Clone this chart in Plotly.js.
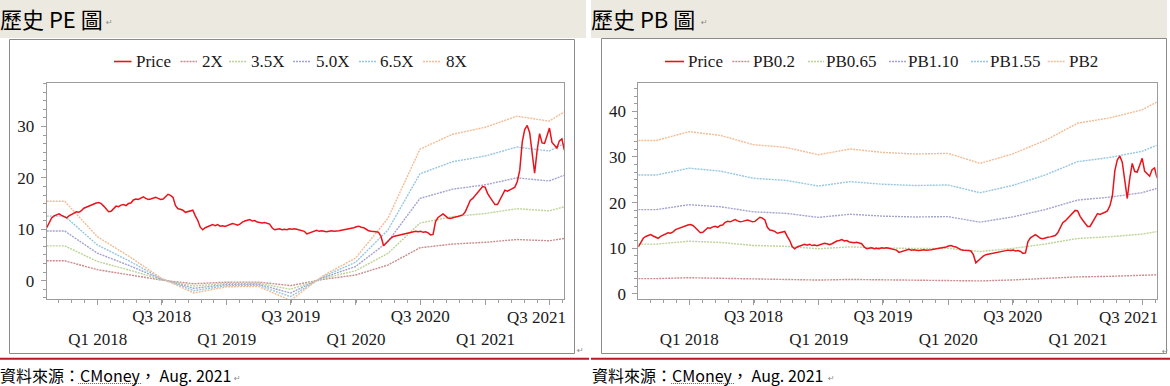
<!DOCTYPE html>
<html><head><meta charset="utf-8">
<script src="https://cdn.plot.ly/plotly-3.0.1.min.js"></script>
<style>html,body{margin:0;padding:0;background:#fff;}#chart{width:1170px;height:386px;}</style>
</head><body><div id="chart"></div>
<script>
// ---------- DATA ----------
const priceStart = '2017-08-10';
const priceStepDays = 7;
const price = [
10.3,11.4,12.2,12.6,12.85,13.0,12.7,12.4,12.2,12.6,
12.9,13.1,13.4,13.3,13.6,14.1,14.3,14.6,14.8,14.9,
15.1,15.2,15.0,14.5,14.0,13.4,13.5,14.1,14.5,14.4,
14.7,14.8,14.6,15.0,15.1,15.7,15.9,15.8,16.1,16.3,
16.0,15.8,15.9,16.0,16.2,16.0,15.8,15.9,16.4,16.8,
16.6,16.2,14.6,14.0,13.9,13.7,13.3,13.4,13.6,13.7,
12.6,11.7,10.4,9.9,10.3,10.5,10.6,10.9,10.7,10.9,
10.6,10.7,10.55,10.7,10.9,11.1,11.0,10.8,11.0,11.4,
11.6,11.7,11.9,11.6,11.7,11.4,11.3,11.2,11.3,11.1,
11.0,10.3,9.9,10.0,10.1,9.9,10.0,9.9,10.1,10.0,
10.1,10.0,9.9,9.8,9.6,9.1,9.3,9.5,9.7,9.8,
9.6,9.7,9.6,9.5,9.6,9.7,9.6,9.6,9.7,9.8,
9.9,9.9,10.0,10.1,10.3,10.5,10.6,10.4,10.3,10.0,
9.7,9.6,9.6,9.5,9.4,8.6,6.8,7.3,7.9,8.3,
8.6,8.7,8.8,8.9,9.0,9.1,9.2,9.4,9.5,9.6,
9.5,9.6,9.4,9.5,9.3,8.9,9.0,11.5,12.3,12.7,
13.0,12.6,12.2,12.1,12.3,12.4,12.5,12.6,12.8,13.4,
14.4,15.6,16.0,16.6,17.2,17.9,18.3,18.2,17.0,16.2,
15.5,14.8,14.8,15.8,16.9,17.6,17.4,17.6,17.9,18.2,
19.3,21.5,27.0,29.4,30.2,28.8,25.0,20.9,25.3,28.6,
26.8,26.7,28.2,29.7,26.9,26.3,25.8,27.2,27.6,25.4
];
const bandDates = ['2017-08-10','2017-09-30','2017-12-31','2018-03-31','2018-06-30','2018-09-30','2018-12-31','2019-03-31','2019-06-30','2019-09-30','2019-12-31','2020-03-31','2020-06-30','2020-09-30','2020-12-31','2021-03-31','2021-06-30','2021-08-11'];
const pe2x  = [3.86,3.86,2.14,1.18,0.12,-0.6,-0.3,-0.28,-0.96,0.24,1.1,3.02,6.4,7.12,7.46,8.0,7.76,8.2];
const pe35x = [6.76,6.76,3.75,2.07,0.21,-1.05,-0.53,-0.49,-1.68,0.42,1.93,5.29,11.2,12.46,13.06,14.0,13.58,14.35];
const pe50x = [9.65,9.65,5.35,2.95,0.3,-1.5,-0.75,-0.7,-2.4,0.6,2.75,7.55,16.0,17.8,18.65,20.0,19.4,20.5];
const pe65x = [12.55,12.55,6.96,3.84,0.39,-1.95,-0.98,-0.91,-3.12,0.78,3.58,9.82,20.8,23.14,24.25,26.0,25.22,26.65];
const pe80x = [15.44,15.44,8.56,4.72,0.48,-2.4,-1.2,-1.12,-3.84,0.96,4.4,12.08,25.6,28.48,29.84,32.0,31.04,32.8];
const pb020 = [3.36,3.36,3.56,3.47,3.27,3.21,3.05,3.18,3.1,3.07,3.08,2.86,3.07,3.36,3.74,3.86,4.03,4.2];
const pb065 = [10.92,10.92,11.55,11.28,10.63,10.43,9.91,10.32,10.08,9.96,10.01,9.3,9.96,10.92,12.16,12.53,13.1,13.65];
const pb110 = [18.48,18.48,19.55,19.09,17.99,17.66,16.78,17.46,17.05,16.86,16.94,15.73,16.86,18.48,20.57,21.2,22.17,23.1];
const pb155 = [26.04,26.04,27.55,26.89,25.34,24.88,23.64,24.61,24.03,23.75,23.87,22.17,23.75,26.04,28.99,29.88,31.23,32.55];
const pb200 = [33.6,33.6,35.55,34.7,32.7,32.1,30.5,31.75,31.0,30.65,30.8,28.6,30.65,33.6,37.4,38.55,40.3,42.0];
const peNames = ['2X','3.5X','5.0X','6.5X','8X'];
const pbNames = ['PB0.2','PB0.65','PB1.10','PB1.55','PB2'];
const tickDates = ['2018-01-01','2018-07-01','2019-01-01','2019-07-01','2020-01-01','2020-07-01','2021-01-01','2021-07-01'];
const tickLabels = ['Q1 2018','Q3 2018','Q1 2019','Q3 2019','Q1 2020','Q3 2020','Q1 2021','Q3 2021'];
const titlePE = '歷史 PE 圖';
const titlePB = '歷史 PB 圖';
const sourceText = '資料來源：CMoney， Aug. 2021';

// ---------- STYLE ----------
const W = 1170, H = 386;
const px = x => x / W;
const py = y => 1 - y / H;
const red = '#E8141C';
const bandColors = ['#C98B8E','#BCD497','#A3A3CF','#97C7DF','#F2BC94'];
const bandDash = '2px,1px';
const serif = 'Liberation Serif, Times New Roman, serif';
const cjk = 'Noto Sans CJK TC, Noto Sans, sans-serif';
const axisGray = '#9c9c9c';
const tickFont = {family: serif, size:17, color:'#1a1a1a'};

const peBands = [pe2x, pe35x, pe50x, pe65x, pe80x];
const pbBands = [pb020, pb065, pb110, pb155, pb200];

const traces = [];
function addChart(bands, names, xa, ya) {
  bands.forEach((vals, k) => traces.push({
    type:'scatter', mode:'lines', x: bandDates, y: vals, name: names[k],
    xaxis: xa, yaxis: ya, showlegend:false, hoverinfo:'skip',
    line:{color: bandColors[k], width:1.4, dash: bandDash}
  }));
  traces.push({
    type:'scatter', mode:'lines', x0: priceStart, dx: priceStepDays*86400000, y: price,
    name:'Price', xaxis: xa, yaxis: ya, showlegend:false, hoverinfo:'skip',
    line:{color: red, width:1.5}
  });
}
addChart(peBands, peNames, 'x', 'y');
addChart(pbBands, pbNames, 'x2', 'y2');

// last label (Q3 2021) is drawn right-aligned to the plot edge, as in the reference
const lastIdx = tickLabels.length - 1;
const tickText = tickLabels.map((t, i) => (i === lastIdx ? '' : (t.startsWith('Q1') ? '<br>' + t : t)));

const yDom = [py(299), py(83)];
function xAxis(domain, anchor) {
  return {
    domain, anchor, type:'date', range:['2017-08-10','2021-08-11'],
    tickmode:'array', tickvals: tickDates, ticktext: tickText, tickangle:0,
    ticks:'outside', ticklen:5, tickcolor: axisGray, tickwidth:1, ticklabelstandoff:-3,
    showline:true, linecolor: axisGray, linewidth:1, mirror:true,
    showgrid:false, zeroline:false, fixedrange:true, tickfont: tickFont,
    minor:{ticks:'outside', ticklen:3, tickcolor: axisGray, dtick: 36.52*86400000, tick0:'2018-01-01', showgrid:false}
  };
}
function yAxis(range, anchor) {
  return {
    domain: yDom, anchor, range, dtick:10, tick0:0,
    ticks:'outside', ticklen:5, tickcolor: axisGray, tickwidth:1,
    showline:true, linecolor: axisGray, linewidth:1, mirror:true,
    showgrid:false, zeroline:false, fixedrange:true, ticklabelstandoff:3, tickfont: tickFont,
    minor:{ticks:'outside', ticklen:3, tickcolor: axisGray, dtick:10/6, tick0:0, showgrid:false}
  };
}

const shapes = [];
const annotations = [];
// page decoration
shapes.push({type:'rect', xref:'paper', yref:'paper', x0:px(0), x1:px(586), y0:py(0), y1:py(38), fillcolor:'#ECE9E0', line:{width:0}, layer:'below'});
shapes.push({type:'rect', xref:'paper', yref:'paper', x0:px(591), x1:px(1167), y0:py(0), y1:py(38), fillcolor:'#ECE9E0', line:{width:0}, layer:'below'});
shapes.push({type:'rect', xref:'paper', yref:'paper', x0:px(9.5), x1:px(574.5), y0:py(39.5), y1:py(353.5), line:{color:'#8a8a8a', width:1}, fillcolor:'rgba(0,0,0,0)'});
shapes.push({type:'rect', xref:'paper', yref:'paper', x0:px(601.5), x1:px(1166.5), y0:py(38.5), y1:py(353.5), line:{color:'#8a8a8a', width:1}, fillcolor:'rgba(0,0,0,0)'});
shapes.push({type:'line', xref:'paper', yref:'paper', x0:px(0), x1:px(589), y0:py(358.7), y1:py(358.7), line:{color:'#B51B20', width:2}});
shapes.push({type:'line', xref:'paper', yref:'paper', x0:px(591), x1:px(1170), y0:py(358.7), y1:py(358.7), line:{color:'#B51B20', width:2}});
// spell-check underline
shapes.push({type:'line', xref:'paper', yref:'paper', x0:px(78), x1:px(141), y0:py(383.5), y1:py(383.5), line:{color:'#E04040', width:1, dash:'1px,1px'}});
shapes.push({type:'line', xref:'paper', yref:'paper', x0:px(671), x1:px(734), y0:py(383.5), y1:py(383.5), line:{color:'#E04040', width:1, dash:'1px,1px'}});

function txt(x, y, text, font, anchor) {
  annotations.push({xref:'paper', yref:'paper', x:px(x), y:py(y), text, showarrow:false,
    xanchor: anchor || 'left', yanchor:'middle', font, borderpad:0});
}
txt(-1, 18, titlePE, {family:cjk, size:22, color:'#000'});
txt(590, 18, titlePB, {family:cjk, size:22, color:'#000'});
txt(-1, 375, sourceText, {family:cjk, size:16, color:'#000'});
txt(591, 375, sourceText, {family:cjk, size:16, color:'#000'});
txt(567, 317, tickLabels[lastIdx], tickFont, 'right');
txt(1159, 317, tickLabels[lastIdx], tickFont, 'right');
const mark = '\u21b5';
[[105,23],[700,23],[233,378],[827,378],[576,350],[1161,351]].forEach(p => txt(p[0], p[1], mark, {family:'DejaVu Sans', size:8, color:'#8a8a8a'}));

// custom legends (positions)
function legend(items, y) {
  items.forEach(it => {
    shapes.push({type:'line', xref:'paper', yref:'paper', x0:px(it.s0), x1:px(it.s1), y0:py(y), y1:py(y),
      line:{color: it.color, width: it.width, dash: it.dash}});
    txt(it.t - 1, y, it.label, tickFont);
  });
}
const peLegendNames = ['Price'].concat(peNames);
const pbLegendNames = ['Price'].concat(pbNames);
const legColors = [red].concat(bandColors);
const peLegPos = [[114,131.5,136],[180.5,197,202],[229,246,251],[293,311,316],[359,376,380],[423,440.5,445.5]];
const pbLegPos = [[665,684,687.6],[732.4,749.2,752.9],[808,824,825.7],[889,906,907.8],[971,988,990],[1047.7,1064.5,1069]];
function legItems(names, pos) {
  return names.map((n, k) => ({label:n, s0:pos[k][0], s1:pos[k][1], t:pos[k][2], color:legColors[k],
    width: k === 0 ? 1.6 : 1.4, dash: k === 0 ? 'solid' : bandDash}));
}
legend(legItems(peLegendNames, peLegPos), 61.5);
legend(legItems(pbLegendNames, pbLegPos), 61.5);

const layout = {
  width: W, height: H, margin:{l:0, r:0, t:0, b:0},
  paper_bgcolor:'#fff', plot_bgcolor:'#fff', showlegend:false,
  xaxis: xAxis([px(46.7), px(564)], 'y'),
  yaxis: yAxis([-3.57, 38.46], 'x'),
  xaxis2: xAxis([px(638.3), px(1156.7)], 'y2'),
  yaxis2: yAxis([-1.1, 46.2], 'x2'),
  shapes, annotations
};
Plotly.newPlot('chart', traces, layout, {staticPlot:true, displayModeBar:false});
</script></body></html>
